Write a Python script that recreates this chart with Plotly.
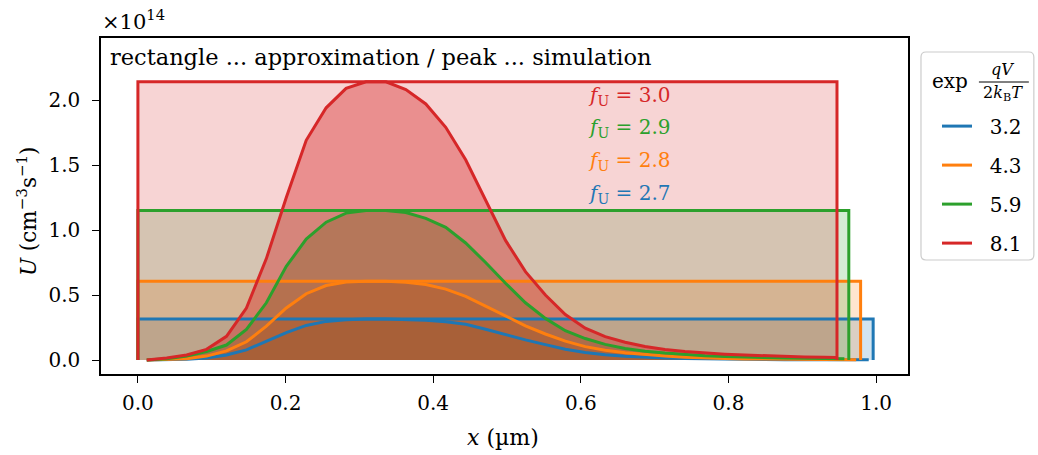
import plotly.graph_objects as go

# Shared sampling positions along the device (µm)
x_grid = [0.012, 0.039, 0.066, 0.093, 0.120, 0.147, 0.174, 0.201, 0.228, 0.255,
          0.282, 0.309, 0.336, 0.363, 0.390, 0.417, 0.444, 0.471, 0.498, 0.525,
          0.552, 0.579, 0.606, 0.633, 0.660, 0.687, 0.714, 0.741, 0.768, 0.795,
          0.822, 0.849, 0.876, 0.903, 0.930]

# Simulated recombination rate U (1e14 cm^-3 s^-1); last value sits at curve_end
u_32 = [0.0, 0.002, 0.006, 0.016, 0.039, 0.078, 0.143, 0.21, 0.266, 0.297,
        0.309, 0.315, 0.315, 0.312, 0.306, 0.295, 0.275, 0.237, 0.195, 0.155,
        0.118, 0.083, 0.058, 0.04, 0.028, 0.02, 0.015, 0.011, 0.008, 0.006,
        0.004, 0.003, 0.002, 0.002, 0.001, 0.001]
u_43 = [0.0, 0.004, 0.01, 0.03, 0.07, 0.14, 0.26, 0.40, 0.51, 0.573,
        0.60, 0.605, 0.605, 0.598, 0.58, 0.545, 0.49, 0.415, 0.34, 0.263,
        0.20, 0.145, 0.103, 0.075, 0.056, 0.041, 0.031, 0.022, 0.015, 0.011,
        0.008, 0.006, 0.005, 0.004, 0.003, 0.002]
u_59 = [0.0, 0.01, 0.03, 0.065, 0.115, 0.235, 0.44, 0.72, 0.93, 1.06,
        1.13, 1.15, 1.15, 1.135, 1.09, 1.02, 0.90, 0.75, 0.59, 0.44,
        0.32, 0.225, 0.165, 0.12, 0.088, 0.068, 0.054, 0.042, 0.033, 0.027,
        0.022, 0.018, 0.015, 0.013, 0.011, 0.010]
u_81 = [0.0, 0.015, 0.038, 0.082, 0.182, 0.40, 0.78, 1.25, 1.69, 1.94,
        2.09, 2.14, 2.14, 2.08, 1.97, 1.79, 1.54, 1.23, 0.92, 0.68,
        0.50, 0.35, 0.245, 0.18, 0.137, 0.104, 0.080, 0.065, 0.053, 0.045,
        0.038, 0.032, 0.027, 0.024, 0.021, 0.020]

exp_labels = ["3.2", "4.3", "5.9", "8.1"]
f_u_labels = ["2.7", "2.8", "2.9", "3.0"]
curve_end = [0.990, 0.973, 0.957, 0.946]
rect_width = [0.996, 0.979, 0.963, 0.947]
rect_height = [0.315, 0.605, 1.15, 2.14]
f_u_ypos = [1.277, 1.53, 1.785, 2.03]

curves = [u_32, u_43, u_59, u_81]
colors = ["#1f77b4", "#ff7f0e", "#2ca02c", "#d62728"]

SERIF = "DejaVu Serif"

# Plot area in pixels (for placing items outside the axes)
L, R, T, B = 101, 909, 38, 374


def px(xp):
    return (xp - L) / (R - L)


def py(yp):
    return (B - yp) / (B - T)


def rgba(hex_color, alpha):
    h = hex_color.lstrip("#")
    r, g, b = int(h[0:2], 16), int(h[2:4], 16), int(h[4:6], 16)
    return f"rgba({r},{g},{b},{alpha})"


fig = go.Figure()

# Filled areas: rectangle approximation, then the simulated peak
for i, c in enumerate(colors):
    w, h = rect_width[i], rect_height[i]
    fig.add_trace(go.Scatter(
        x=[0, 0, w, w], y=[0, h, h, 0], mode="none", fill="toself",
        fillcolor=rgba(c, 0.2), showlegend=False, hoverinfo="skip",
        legendgroup=exp_labels[i]))
    xs = x_grid + [curve_end[i]]
    fig.add_trace(go.Scatter(
        x=xs, y=curves[i], mode="none", fill="tozeroy",
        fillcolor=rgba(c, 0.4), showlegend=False, hoverinfo="skip",
        legendgroup=exp_labels[i]))

# Outlines on top of all fills
for i, c in enumerate(colors):
    w, h = rect_width[i], rect_height[i]
    fig.add_trace(go.Scatter(
        x=[0, 0, w, w], y=[0, h, h, 0], mode="lines",
        line=dict(color=c, width=3), showlegend=False, hoverinfo="skip",
        legendgroup=exp_labels[i]))
    xs = x_grid + [curve_end[i]]
    fig.add_trace(go.Scatter(
        x=xs, y=curves[i], mode="lines", name="&nbsp;&nbsp;" + exp_labels[i],
        line=dict(color=c, width=3), legendgroup=exp_labels[i]))

annotations = []
for i, c in enumerate(colors):
    annotations.append(dict(
        x=0.607, y=f_u_ypos[i], xref="x", yref="y", xanchor="left", yanchor="middle",
        text=f"<i>f</i><sub>U</sub> = {f_u_labels[i]}", showarrow=False,
        font=dict(family=SERIF, size=20, color=c)))

annotations += [
    dict(x=px(108), y=py(57), xref="paper", yref="paper", xanchor="left", yanchor="middle",
         text="rectangle ... approximation / peak ... simulation", showarrow=False,
         font=dict(family=SERIF, size=22.5, color="black")),
    dict(x=px(100), y=py(20), xref="paper", yref="paper", xanchor="left", yanchor="middle",
         text="×10<sup>14</sup>", showarrow=False,
         font=dict(family=SERIF, size=21, color="black")),
    dict(x=px(503), y=py(437), xref="paper", yref="paper", xanchor="center", yanchor="middle",
         text="<i>x</i> (µm)", showarrow=False,
         font=dict(family=SERIF, size=22, color="black")),
    dict(x=px(27), y=py(211), xref="paper", yref="paper", xanchor="center", yanchor="middle",
         text="<i>U</i> (cm<sup>−3</sup>s<sup>−1</sup>)", textangle=-90, showarrow=False,
         font=dict(family=SERIF, size=21.5, color="black")),
    # legend heading: exp qV / (2 k_B T)
    dict(x=px(951), y=py(81), xref="paper", yref="paper",
         xanchor="center", yanchor="middle", text="exp", showarrow=False,
         font=dict(family=SERIF, size=20, color="black")),
    dict(x=px(1004), y=py(69), xref="paper", yref="paper",
         xanchor="center", yanchor="middle", text="<i>qV</i>", showarrow=False,
         font=dict(family=SERIF, size=16, color="black")),
    dict(x=px(1004), y=py(94), xref="paper", yref="paper",
         xanchor="center", yanchor="middle", text="2<i>k</i><sub>B</sub><i>T</i>",
         showarrow=False, font=dict(family=SERIF, size=16, color="black")),
]

# Legend frame with rounded corners, drawn in paper coordinates
bx0, bx1, by0, by1, rad = 922, 1035, 52, 260, 5
rx, ry = rad / (R - L), rad / (B - T)
X0, X1, Y0, Y1 = px(bx0), px(bx1), py(by1), py(by0)
frame_path = (f"M{X0 + rx},{Y0} L{X1 - rx},{Y0} Q{X1},{Y0} {X1},{Y0 + ry} "
              f"L{X1},{Y1 - ry} Q{X1},{Y1} {X1 - rx},{Y1} "
              f"L{X0 + rx},{Y1} Q{X0},{Y1} {X0},{Y1 - ry} "
              f"L{X0},{Y0 + ry} Q{X0},{Y0} {X0 + rx},{Y0} Z")

shapes = [
    dict(type="path", xref="paper", yref="paper", path=frame_path,
         line=dict(color="#cccccc", width=1.2), fillcolor="rgba(0,0,0,0)"),
    dict(type="line", xref="paper", yref="paper",
         x0=px(980), x1=px(1030), y0=py(82), y1=py(82),
         line=dict(color="black", width=1)),
]

axis_common = dict(showline=True, linecolor="black", linewidth=1.5, mirror=True,
                   ticks="outside", ticklen=7, tickwidth=1.3, tickcolor="black",
                   showgrid=False, zeroline=False, tickformat=".1f",
                   tickfont=dict(family=SERIF, size=20, color="black"))

fig.update_layout(
    width=1038, height=455,
    margin=dict(l=L, r=1038 - R, t=T, b=455 - B),
    plot_bgcolor="white", paper_bgcolor="white",
    font=dict(family=SERIF, size=19, color="black"),
    xaxis=dict(range=[-0.05, 1.0432], tickvals=[0, 0.2, 0.4, 0.6, 0.8, 1.0],
               ticklabelstandoff=3, **axis_common),
    yaxis=dict(range=[-0.1077, 2.477], tickvals=[0, 0.5, 1.0, 1.5, 2.0],
               ticklabelstandoff=8, **axis_common),
    legend=dict(x=px(937), y=py(52), xanchor="left", yanchor="top",
                bgcolor="rgba(0,0,0,0)", borderwidth=0,
                font=dict(family=SERIF, size=20, color="black"),
                title=dict(text="&nbsp;<br>&nbsp;", font=dict(family=SERIF, size=21)),
                itemwidth=30, tracegroupgap=10, traceorder="grouped"),
    annotations=annotations,
    shapes=shapes,
)

fig.write_html("out.html")
